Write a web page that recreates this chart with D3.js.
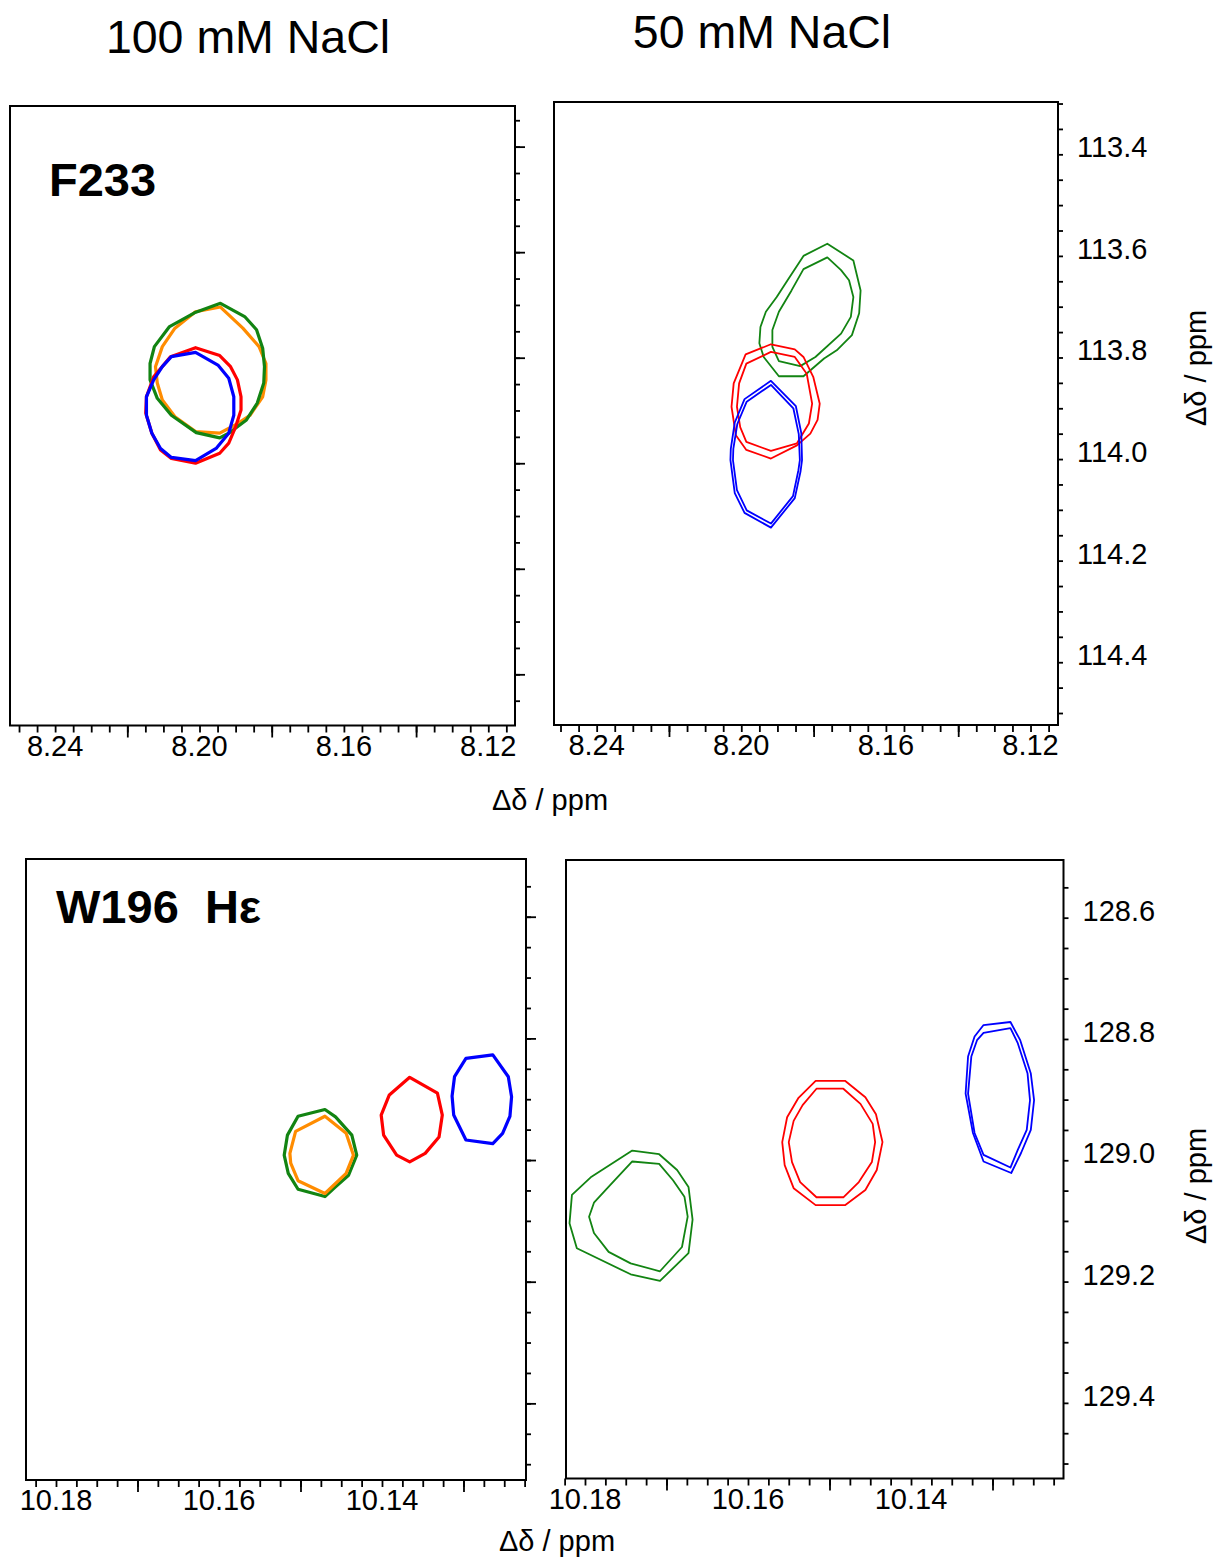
<!DOCTYPE html>
<html><head><meta charset="utf-8">
<script src="https://cdn.jsdelivr.net/npm/d3@7"></script>
<style>
body{margin:0;background:#fff}
text{font-family:"Liberation Sans",Arial,Helvetica,sans-serif;fill:#000}
</style>
</head><body>
<svg id="c" width="1215" height="1561"></svg>
<script>
// ---------- data (chemical shifts in ppm: [1H, 15N]) ----------
const colTitles = ["100 mM NaCl", "50 mM NaCl"];
const rowLabels = ["F233", "W196  H\u03b5"];
const axisLabel = "\u0394\u03b4 / ppm";

const topXLabels = [8.24, 8.20, 8.16, 8.12];
const topXLong = [8.22, 8.18, 8.14];
const topYLabels = [113.4, 113.6, 113.8, 114.0, 114.2, 114.4];
const botXLabels = [10.18, 10.16, 10.14];
const botXLong = [10.17, 10.15, 10.13];
const botYLabels = [128.6, 128.8, 129.0, 129.2, 129.4];

// F233, 100 mM NaCl
const tlOrange = [[8.1942,113.704],[8.2011,113.713],[8.2068,113.744],[8.2103,113.779],[8.2122,113.817],[8.2117,113.848],[8.2103,113.880],[8.2068,113.912],[8.2011,113.940],[8.1944,113.943],[8.1900,113.927],[8.1860,113.909],[8.1825,113.874],[8.1816,113.842],[8.1816,113.811],[8.1835,113.779],[8.1880,113.744]];
const tlGreen = [[8.1942,113.697],[8.1875,113.722],[8.1842,113.747],[8.1825,113.782],[8.1820,113.817],[8.1822,113.848],[8.1840,113.886],[8.1870,113.918],[8.1919,113.943],[8.1944,113.952],[8.2009,113.942],[8.2078,113.909],[8.2117,113.877],[8.2137,113.842],[8.2137,113.811],[8.2125,113.779],[8.2083,113.741],[8.2014,113.715]];
const tlRed = [[8.2011,113.781],[8.1944,113.796],[8.1914,113.817],[8.1895,113.842],[8.1885,113.874],[8.1885,113.899],[8.1900,113.931],[8.1919,113.962],[8.1944,113.981],[8.2011,114.000],[8.2078,113.991],[8.2108,113.975],[8.2132,113.943],[8.2149,113.905],[8.2147,113.874],[8.2127,113.836],[8.2080,113.798]];
const tlBlue = [[8.2011,113.790],[8.2078,113.798],[8.2103,113.817],[8.2127,113.842],[8.2147,113.874],[8.2147,113.909],[8.2132,113.943],[8.2108,113.972],[8.2078,113.989],[8.2011,113.995],[8.1954,113.972],[8.1919,113.943],[8.1905,113.909],[8.1905,113.874],[8.1919,113.839],[8.1949,113.814]];

// F233, 50 mM NaCl
const trGreenOuter = [[8.1762,113.576],[8.1828,113.600],[8.1872,113.648],[8.1902,113.681],[8.1932,113.710],[8.1947,113.740],[8.1950,113.772],[8.1938,113.799],[8.1896,113.837],[8.1828,113.837],[8.1771,113.802],[8.1736,113.786],[8.1694,113.756],[8.1674,113.713],[8.1670,113.668],[8.1690,113.609]];
const trGreenInner = [[8.1762,113.603],[8.1828,113.626],[8.1861,113.668],[8.1896,113.710],[8.1914,113.746],[8.1914,113.779],[8.1896,113.807],[8.1837,113.817],[8.1795,113.799],[8.1724,113.753],[8.1697,113.720],[8.1690,113.681],[8.1702,113.648],[8.1724,113.628]];
const trRedOuter = [[8.1918,113.774],[8.1852,113.784],[8.1828,113.799],[8.1801,113.838],[8.1783,113.891],[8.1789,113.923],[8.1809,113.950],[8.1846,113.973],[8.1918,113.999],[8.1986,113.982],[8.2015,113.953],[8.2027,113.897],[8.2021,113.851],[8.1988,113.794]];
const trRedInner = [[8.1918,113.789],[8.1852,113.799],[8.1819,113.832],[8.1804,113.891],[8.1813,113.930],[8.1846,113.969],[8.1918,113.984],[8.1986,113.966],[8.2003,113.937],[8.2012,113.897],[8.2006,113.851],[8.1986,113.812]];
const trBlueOuter = [[8.1918,113.846],[8.1849,113.896],[8.1834,113.949],[8.1832,114.002],[8.1836,114.024],[8.1852,114.077],[8.1918,114.135],[8.1991,114.106],[8.2018,114.067],[8.2030,114.002],[8.2029,113.980],[8.2018,113.928],[8.1991,113.882]];
const trBlueInner = [[8.1918,113.854],[8.1856,113.900],[8.1841,113.951],[8.1838,114.002],[8.1842,114.022],[8.1857,114.073],[8.1918,114.127],[8.1985,114.101],[8.2012,114.061],[8.2023,114.002],[8.2022,113.980],[8.2011,113.931],[8.1985,113.887]];

// W196 He, 100 mM NaCl
const blGreen = [[10.1470,128.917],[10.1457,128.929],[10.1437,128.959],[10.1431,128.992],[10.1441,129.025],[10.1457,129.044],[10.1470,129.060],[10.1503,129.048],[10.1515,129.022],[10.1520,128.992],[10.1516,128.959],[10.1503,128.928]];
const blOrange = [[10.1470,128.928],[10.1444,128.956],[10.1435,128.992],[10.1444,129.022],[10.1470,129.055],[10.1503,129.034],[10.1512,129.005],[10.1513,128.989],[10.1506,128.953]];
const blRed = [[10.1366,128.864],[10.1332,128.890],[10.1326,128.926],[10.1330,128.962],[10.1347,128.989],[10.1366,129.003],[10.1382,128.992],[10.1398,128.959],[10.1401,128.926],[10.1391,128.893]];
const blBlue = [[10.1297,128.833],[10.1264,128.827],[10.1245,128.863],[10.1241,128.896],[10.1243,128.928],[10.1252,128.956],[10.1264,128.973],[10.1297,128.967],[10.1312,128.926],[10.1314,128.895],[10.1311,128.863]];

// W196 He, 50 mM NaCl
const brGreenOuter = [[10.1742,128.984],[10.1709,128.990],[10.1687,129.016],[10.1673,129.044],[10.1668,129.098],[10.1673,129.153],[10.1708,129.199],[10.1744,129.188],[10.1810,129.145],[10.1819,129.104],[10.1816,129.057],[10.1792,129.027]];
const brGreenInner = [[10.1742,129.002],[10.1709,129.006],[10.1692,129.033],[10.1678,129.060],[10.1674,129.093],[10.1681,129.143],[10.1708,129.183],[10.1744,129.170],[10.1771,129.151],[10.1789,129.120],[10.1795,129.093],[10.1789,129.070],[10.1772,129.045]];
const brRedOuter = [[10.1517,128.869],[10.1481,128.869],[10.1456,128.896],[10.1443,128.924],[10.1435,128.970],[10.1442,129.016],[10.1456,129.049],[10.1481,129.074],[10.1517,129.074],[10.1544,129.046],[10.1555,129.008],[10.1558,128.970],[10.1552,128.929],[10.1538,128.897]];
const brRedInner = [[10.1516,128.882],[10.1483,128.882],[10.1462,128.907],[10.1447,128.940],[10.1444,128.970],[10.1448,129.003],[10.1464,129.036],[10.1483,129.061],[10.1516,129.061],[10.1536,129.036],[10.1546,129.003],[10.1550,128.970],[10.1544,128.935],[10.1533,128.909]];
const brBlueOuter = [[10.1311,128.777],[10.1278,128.772],[10.1266,128.802],[10.1253,128.857],[10.1249,128.901],[10.1253,128.950],[10.1265,128.988],[10.1277,129.021],[10.1311,129.002],[10.1324,128.955],[10.1333,128.890],[10.1330,128.829],[10.1322,128.796]];
const brBlueInner = [[10.1311,128.790],[10.1278,128.782],[10.1269,128.807],[10.1257,128.857],[10.1254,128.901],[10.1258,128.950],[10.1269,128.983],[10.1278,129.012],[10.1311,128.991],[10.1322,128.955],[10.1330,128.890],[10.1326,128.829],[10.1319,128.802]];

// ---------- drawing ----------
const C = {green:"#128412", orange:"#ff8c00", red:"#ff0000", blue:"#0000ff"};
const svg = d3.select("#c");

function panel(p) {
  const [x0, y0, x1, y1] = p.rect;
  const x = d3.scaleLinear().domain(p.xDomain).range([x0, x1]);
  const y = d3.scaleLinear().domain(p.yDomain).range([y0, y1]);
  const g = svg.append("g");

  // contours
  const line = d3.line().x(d => x(d[0])).y(d => y(d[1])).curve(d3.curveLinearClosed);
  const cg = g.append("g");
  p.contours.forEach(c => {
    cg.append("path").attr("d", line(c.pts)).attr("fill", "none")
      .attr("stroke", c.color).attr("stroke-width", c.w)
      .attr("stroke-linejoin", "round");
  });

  // frame
  g.append("rect").attr("x", x0).attr("y", y0).attr("width", x1 - x0).attr("height", y1 - y0)
    .attr("fill", "none").attr("stroke", "#000").attr("stroke-width", 2);

  const styleAxis = sel => {
    sel.select(".domain").remove();
    sel.selectAll(".tick line").attr("stroke", "#000").attr("stroke-width", 1.8);
  };
  // x ticks (bottom)
  g.append("g").attr("transform", `translate(0,${y1})`)
    .call(d3.axisBottom(x).tickValues(p.xMinor).tickSize(7).tickFormat(""))
    .call(styleAxis);
  g.append("g").attr("transform", `translate(0,${y1})`)
    .call(d3.axisBottom(x).tickValues(p.xLong).tickSize(12).tickFormat(""))
    .call(styleAxis);
  // y ticks (right)
  g.append("g").attr("transform", `translate(${x1},0)`)
    .call(d3.axisRight(y).tickValues(p.yMinor).tickSize(5).tickFormat(""))
    .call(styleAxis);
  if (p.yLong) {
    g.append("g").attr("transform", `translate(${x1},0)`)
      .call(d3.axisRight(y).tickValues(p.yLong).tickSize(10).tickFormat(""))
      .call(styleAxis);
  }
  // x labels
  g.append("g").selectAll("text").data(p.xLabels).join("text")
    .attr("x", d => x(d)).attr("y", y1 + 30).attr("text-anchor", "middle")
    .attr("font-size", 29).text(d => d.toFixed(2));
  // y labels
  if (p.showY) {
    g.append("g").selectAll("text").data(p.yLabels).join("text")
      .attr("x", x1 + 19).attr("y", d => y(d) + 3).attr("text-anchor", "start")
      .attr("font-size", 29).text(d => d.toFixed(1));
  }
  return {x, y};
}

const topXMinor = d3.range(0, 28).map(i => +(8.25 - i * 0.005).toFixed(4));
const botXMinor = d3.range(0, 25).map(i => +(10.1825 - i * 0.0025).toFixed(4));
const topYMinorL = d3.range(0, 23).map(i => +(113.35 + i * 0.05).toFixed(2));
const topYMinorR = d3.range(0, 25).map(i => +(113.30 + i * 0.05).toFixed(2));
const botYMinor = d3.range(0, 20).map(i => +(128.55 + i * 0.05).toFixed(2));

panel({
  rect: [10, 106, 515, 725.5], xDomain: [8.2525, 8.1126], yDomain: [113.323, 114.497],
  xMinor: topXMinor, xLong: topXLong, xLabels: topXLabels,
  yMinor: topYMinorL, yLong: topYLabels, yLabels: topYLabels, showY: false,
  contours: [
    {pts: tlOrange, color: C.orange, w: 3.2},
    {pts: tlGreen, color: C.green, w: 3.2},
    {pts: tlRed, color: C.red, w: 3.2},
    {pts: tlBlue, color: C.blue, w: 3.2}
  ]
});
panel({
  rect: [554, 102, 1058, 725], xDomain: [8.2518, 8.1124], yDomain: [113.297, 114.5236],
  xMinor: topXMinor, xLong: topXLong, xLabels: topXLabels,
  yMinor: topYMinorR, yLong: null, yLabels: topYLabels, showY: true,
  contours: [
    {pts: trGreenOuter, color: C.green, w: 1.8},
    {pts: trGreenInner, color: C.green, w: 1.8},
    {pts: trRedOuter, color: C.red, w: 1.8},
    {pts: trRedInner, color: C.red, w: 1.8},
    {pts: trBlueOuter, color: C.blue, w: 1.8},
    {pts: trBlueInner, color: C.blue, w: 1.8}
  ]
});
panel({
  rect: [26, 859, 526, 1480], xDomain: [10.18368, 10.12233], yDomain: [128.5051, 129.526],
  xMinor: botXMinor, xLong: botXLong, xLabels: botXLabels,
  yMinor: botYMinor, yLong: botYLabels, yLabels: botYLabels, showY: false,
  contours: [
    {pts: blGreen, color: C.green, w: 3.2},
    {pts: blOrange, color: C.orange, w: 3.2},
    {pts: blRed, color: C.red, w: 3.2},
    {pts: blBlue, color: C.blue, w: 3.2}
  ]
});
panel({
  rect: [566, 860, 1063.5, 1478.5], xDomain: [10.18233, 10.12129], yDomain: [128.5049, 129.5247],
  xMinor: botXMinor, xLong: botXLong, xLabels: botXLabels,
  yMinor: botYMinor, yLong: null, yLabels: botYLabels, showY: true,
  contours: [
    {pts: brGreenOuter, color: C.green, w: 1.8},
    {pts: brGreenInner, color: C.green, w: 1.8},
    {pts: brRedOuter, color: C.red, w: 1.8},
    {pts: brRedInner, color: C.red, w: 1.8},
    {pts: brBlueOuter, color: C.blue, w: 1.8},
    {pts: brBlueInner, color: C.blue, w: 1.8}
  ]
});

// titles
svg.append("text").attr("x", 248).attr("y", 53).attr("text-anchor", "middle")
  .attr("font-size", 46.5).text(colTitles[0]);
svg.append("text").attr("x", 762).attr("y", 47.5).attr("text-anchor", "middle")
  .attr("font-size", 46.5).text(colTitles[1]);
// row labels
svg.append("text").attr("x", 49).attr("y", 196).attr("font-size", 47)
  .attr("font-weight", "bold").text(rowLabels[0]);
svg.append("text").attr("x", 56).attr("y", 923).attr("font-size", 47)
  .attr("font-weight", "bold").style("white-space", "pre").text(rowLabels[1]);
// axis labels
svg.append("text").attr("x", 550).attr("y", 810).attr("text-anchor", "middle")
  .attr("font-size", 29).text(axisLabel);
svg.append("text").attr("x", 557).attr("y", 1551).attr("text-anchor", "middle")
  .attr("font-size", 29).text(axisLabel);
svg.append("text").attr("transform", "translate(1206,368) rotate(-90)").attr("text-anchor", "middle")
  .attr("font-size", 29).text(axisLabel);
svg.append("text").attr("transform", "translate(1206,1186) rotate(-90)").attr("text-anchor", "middle")
  .attr("font-size", 29).text(axisLabel);
</script>
</body></html>
